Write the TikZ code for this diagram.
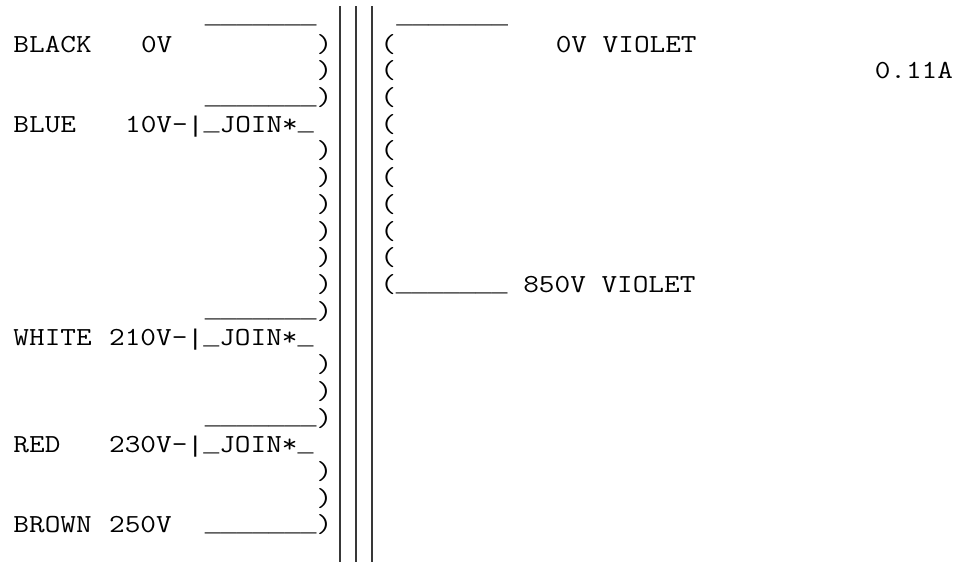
\documentclass[tikz,border=0pt]{standalone}
\usepackage{graphicx}
\usepackage{fontspec}
\newfontfamily\lmono{Liberation Mono}
\newcommand\cw{15.95}
\newcommand\lh{26.72}
\newcommand\sx{1.1685}
\newcommand\Us{{\lmono\fontsize{17.0625}{17}\selectfont\raisebox{1.1pt}{\_\_\_\_\_\_\_}}}
\newcommand\Ul{{\lmono\fontsize{17.0625}{17}\selectfont\raisebox{1.1pt}{\_}}}
\newcommand\Ubar{{\lmono\fontsize{17.0625}{17}\selectfont|}}
\tikzset{
  txt/.style={anchor=base west, inner sep=0pt, outer sep=0pt, text=black,
    font=\fontsize{19.5}{19.5}\selectfont\ttfamily},
  corebar/.style={draw=black!78, line width=1.25pt}
}
\newcommand\tok[4]{\node[txt] (#1) at ({13.5+\cw*(#2)},{25.3+\lh*(#3)}) {\scalebox{\sx}[1]{#4}};}
\begin{document}
\begin{tikzpicture}[x={(0.75pt,0)}, y={(0,-0.75pt)}]
\fill[white] (0,0) rectangle (961,562);
\useasboundingbox (0,0) rectangle (961,562);
% core bars
\coordinate (b1t) at (340,6); \coordinate (b1b) at (340,562);
\coordinate (b2t) at (356,6); \coordinate (b2b) at (356,562);
\coordinate (b3t) at (372,6); \coordinate (b3b) at (372,562);
\draw[corebar] (b1t) -- (b1b);
\draw[corebar] (b2t) -- (b2b);
\draw[corebar] (b3t) -- (b3b);
% row 0
\tok{u0l}{12}{0}{\Us}
\tok{u0r}{24}{0}{\Us}
% row 1
\tok{black}{0}{1}{BLACK}
\tok{v0}{8}{1}{0V}
\tok{p1}{19}{1}{)}
\tok{q1}{23}{1}{(}
\tok{viol0}{34}{1}{0V VIOLET}
% row 2
\tok{p2}{19}{2}{)}
\tok{q2}{23}{2}{(}
\tok{amp}{54}{2}{0.11A}
% row 3
\tok{p3}{12}{3}{\Us)}
\tok{q3}{23}{3}{(}
% row 4
\tok{blue}{0}{4}{BLUE}
\tok{v10}{7}{4}{10V-\Ubar\Ul JOIN*\Ul}
\tok{q4}{23}{4}{(}
% rows 5-9
\foreach \r in {5,...,9}{
  \tok{p\r}{19}{\r}{)}
  \tok{q\r}{23}{\r}{(}
}
% row 10
\tok{p10}{19}{10}{)}
\tok{q10}{23}{10}{(\Us{} 850V VIOLET}
% row 11
\tok{p11}{12}{11}{\Us)}
% row 12
\tok{white}{0}{12}{WHITE}
\tok{v210}{6}{12}{210V-\Ubar\Ul JOIN*\Ul}
% rows 13-14
\tok{p13}{19}{13}{)}
\tok{p14}{19}{14}{)}
% row 15
\tok{p15}{12}{15}{\Us)}
% row 16
\tok{red}{0}{16}{RED}
\tok{v230}{6}{16}{230V-\Ubar\Ul JOIN*\Ul}
% rows 17-18
\tok{p17}{19}{17}{)}
\tok{p18}{19}{18}{)}
% row 19
\tok{brown}{0}{19}{BROWN}
\tok{v250}{6}{19}{250V}
\tok{p19}{12}{19}{\Us)}
\end{tikzpicture}
\end{document}
